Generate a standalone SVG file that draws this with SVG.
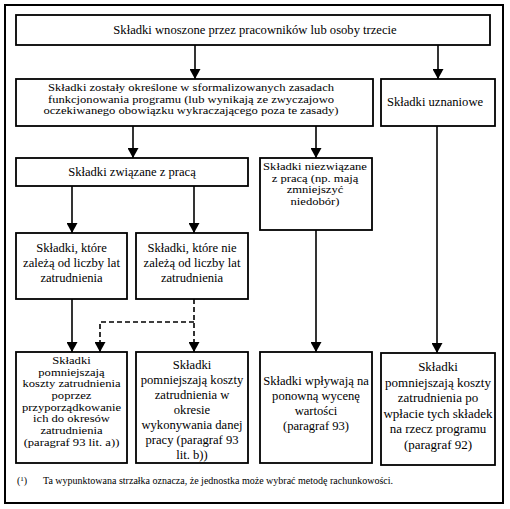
<svg xmlns="http://www.w3.org/2000/svg" width="510" height="509" viewBox="0 0 510 509">
<style>
.box{fill:#fff;stroke:#000;stroke-width:1.8}
.t{font-family:"Liberation Serif","Times New Roman",serif;font-size:12.6px;fill:#000;text-anchor:middle}
.big{font-size:13px}
.sm{font-size:10.5px}
.fn{font-family:"Liberation Serif","Times New Roman",serif;font-size:10px;fill:#000}
.c{fill:none;stroke:#000;stroke-width:1.6}
.d{stroke-dasharray:5,3}
</style>
<defs>
<marker id="ah" markerUnits="userSpaceOnUse" markerWidth="11" markerHeight="11" refX="10" refY="5.5" orient="auto" viewBox="0 0 10 11">
<path d="M0,0 L10,5.5 L0,11 z" fill="#000"/>
</marker>
</defs>
<rect x="0" y="0" width="510" height="509" fill="#fff"/>
<rect x="5" y="5" width="498" height="498" fill="#fff" stroke="#000" stroke-width="2"/>

<g id="connectors">
<line class="c" x1="195" y1="45" x2="195" y2="79" marker-end="url(#ah)"/>
<line class="c" x1="438" y1="45" x2="438" y2="79" marker-end="url(#ah)"/>
<line class="c" x1="133" y1="126" x2="133" y2="158" marker-end="url(#ah)"/>
<line class="c" x1="316" y1="126" x2="316" y2="158" marker-end="url(#ah)"/>
<line class="c" x1="72" y1="186" x2="72" y2="233" marker-end="url(#ah)"/>
<line class="c" x1="194" y1="186" x2="194" y2="233" marker-end="url(#ah)"/>
<line class="c" x1="72" y1="299" x2="72" y2="352" marker-end="url(#ah)"/>
<line class="c d" x1="194" y1="299" x2="194" y2="352" marker-end="url(#ah)"/>
<path class="c d" d="M194,322 H100 V352" marker-end="url(#ah)"/>
<line class="c" x1="316" y1="230" x2="316" y2="352" marker-end="url(#ah)"/>
<line class="c" x1="437" y1="126" x2="437" y2="353" marker-end="url(#ah)"/>
</g>

<g id="n1">
<rect class="box" x="16" y="15" width="474" height="30"/>
<text class="t" x="255" y="34">Składki wnoszone przez pracowników lub osoby trzecie</text>
</g>
<g id="n2">
<rect class="box" x="16" y="79" width="357" height="47"/>
<text class="t sm" transform="matrix(1.2 0 0 1 -38.2 0)" x="191" y="91">Składki zostały określone w sformalizowanych zasadach<tspan x="191" dy="11.65">funkcjonowania programu (lub wynikają ze zwyczajowo</tspan><tspan x="191" dy="11.65">oczekiwanego obowiązku wykraczającego poza te zasady)</tspan></text>
</g>
<g id="n3">
<rect class="box" x="381" y="79" width="114" height="47"/>
<text class="t" x="435" y="106">Składki uznaniowe</text>
</g>
<g id="n4">
<rect class="box" x="16" y="158" width="232" height="28"/>
<text class="t" x="132" y="176">Składki związane z pracą</text>
</g>
<g id="n5">
<rect class="box" x="260" y="158" width="112" height="72"/>
<text class="t sm" transform="matrix(1.2 0 0 1 -63 0)" x="315" y="170">Składki niezwiązane<tspan x="315" dy="11.65">z pracą (np. mają</tspan><tspan x="315" dy="11.65">zmniejszyć</tspan><tspan x="315" dy="11.65">niedobór)</tspan></text>
</g>
<g id="n6">
<rect class="box" x="16" y="233" width="111" height="66"/>
<text class="t" x="71.5" y="252">Składki, które<tspan x="71.5" dy="15">zależą od liczby lat</tspan><tspan x="71.5" dy="15">zatrudnienia</tspan></text>
</g>
<g id="n7">
<rect class="box" x="136" y="233" width="112" height="66"/>
<text class="t" x="192" y="252">Składki, które nie<tspan x="192" dy="15">zależą od liczby lat</tspan><tspan x="192" dy="15">zatrudnienia</tspan></text>
</g>
<g id="n8">
<rect class="box" x="16" y="352" width="111" height="111"/>
<text class="t sm" transform="matrix(1.2 0 0 1 -14.3 0)" x="71.5" y="364">Składki<tspan x="71.5" dy="11.65">pomniejszają</tspan><tspan x="71.5" dy="11.65">koszty zatrudnienia</tspan><tspan x="71.5" dy="11.65">poprzez</tspan><tspan x="71.5" dy="11.65">przyporządkowanie</tspan><tspan x="71.5" dy="11.65">ich do okresów</tspan><tspan x="71.5" dy="11.65">zatrudnienia</tspan><tspan x="71.5" dy="11.65">(paragraf 93 lit. a))</tspan></text>
</g>
<g id="n9">
<rect class="box" x="136" y="352" width="112" height="111"/>
<text class="t" x="192" y="369">Składki<tspan x="192" dy="15">pomniejszają koszty</tspan><tspan x="192" dy="15">zatrudnienia w</tspan><tspan x="192" dy="15">okresie</tspan><tspan x="192" dy="15">wykonywania danej</tspan><tspan x="192" dy="15">pracy (paragraf 93</tspan><tspan x="192" dy="15">lit. b))</tspan></text>
</g>
<g id="n10">
<rect class="box" x="260" y="352" width="112" height="111"/>
<text class="t" x="316" y="385">Składki wpływają na<tspan x="316" dy="15">ponowną wycenę</tspan><tspan x="316" dy="15">wartości</tspan><tspan x="316" dy="15">(paragraf 93)</tspan></text>
</g>
<g id="n11">
<rect class="box" x="381" y="353" width="114" height="112"/>
<text class="t big" x="438" y="371">Składki<tspan x="438" dy="15.6">pomniejszają koszty</tspan><tspan x="438" dy="15.6">zatrudnienia po</tspan><tspan x="438" dy="15.6">wpłacie tych składek</tspan><tspan x="438" dy="15.6">na rzecz programu</tspan><tspan x="438" dy="15.6">(paragraf 92)</tspan></text>
</g>
<g id="footnote">
<text class="fn" x="17" y="484">(<tspan font-size="7" dy="-3.5">1</tspan><tspan dy="3.5">)</tspan></text>
<text class="fn" x="43" y="484">Ta wypunktowana strzałka oznacza, że jednostka może wybrać metodę rachunkowości.</text>
</g>
</svg>
